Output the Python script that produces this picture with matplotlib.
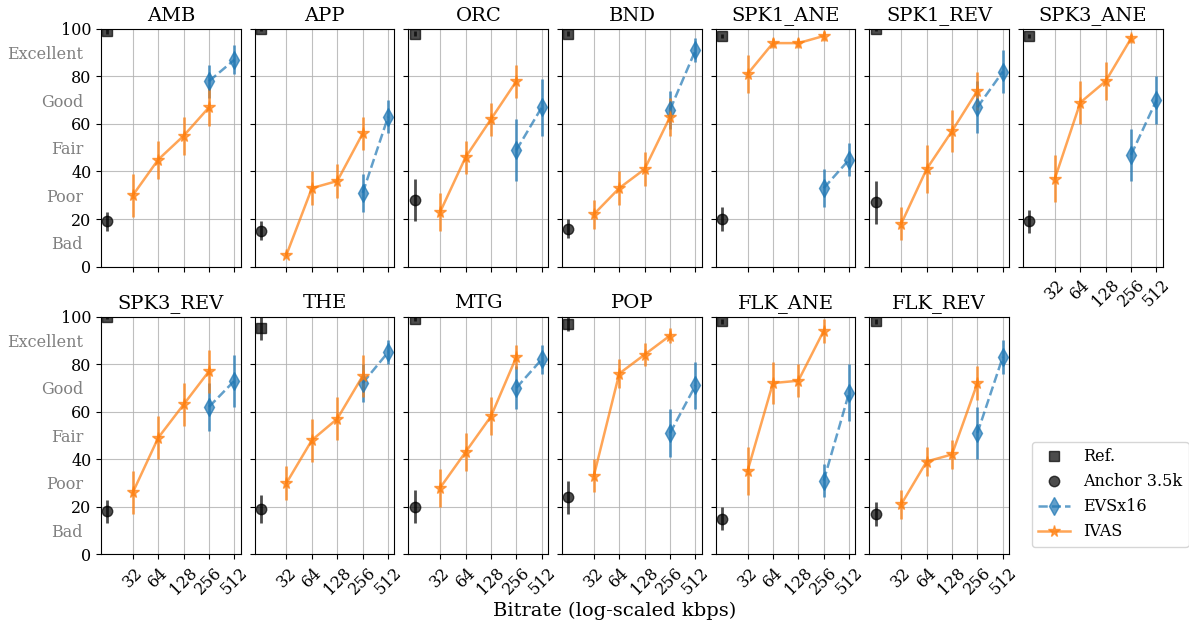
import numpy as np
import matplotlib
matplotlib.use('Agg')
import matplotlib.pyplot as plt
from matplotlib.lines import Line2D
from matplotlib.ticker import FixedLocator, NullLocator

plt.rcParams['font.family'] = 'DejaVu Serif'

items = ['AMB', 'APP', 'ORC', 'BND', 'SPK1_ANE', 'SPK1_REV', 'SPK3_ANE',
         'SPK3_REV', 'THE', 'MTG', 'POP', 'FLK_ANE', 'FLK_REV']

ref_mean = [99, 100, 98, 98, 97, 100, 97, 100, 95, 99, 97, 98, 98]
ref_err = [1, 1, 1, 1, 1, 1, 1, 1, 5, 1, 3, 1, 1]

anchor_mean = [19, 15, 28, 16, 20, 27, 19, 18, 19, 20, 24, 15, 17]
anchor_err = [4, 4, 9, 4, 5, 9, 5, 5, 6, 7, 7, 5, 5]

ivas_rates = [32, 64, 128, 256]
ivas_mean = [
    [30, 45, 55, 67],
    [5, 33, 36, 56],
    [23, 46, 62, 78],
    [22, 33, 41, 63],
    [81, 94, 94, 97],
    [18, 41, 57, 74],
    [37, 69, 78, 96],
    [26, 49, 63, 77],
    [30, 48, 57, 75],
    [28, 43, 58, 83],
    [33, 76, 84, 92],
    [35, 72, 73, 94],
    [21, 39, 42, 72],
]
ivas_err = [
    [9, 8, 8, 8],
    [1, 7, 7, 7],
    [8, 7, 7, 7],
    [6, 7, 7, 8],
    [8, 2, 2, 2],
    [7, 10, 9, 8],
    [10, 9, 8, 2],
    [9, 9, 9, 9],
    [7, 9, 9, 9],
    [8, 8, 8, 5],
    [7, 6, 5, 3],
    [10, 9, 7, 5],
    [6, 6, 6, 7],
]

evs_rates = [256, 512]
evs_mean = [
    [78, 87],
    [31, 63],
    [49, 67],
    [66, 91],
    [33, 45],
    [67, 82],
    [47, 70],
    [62, 73],
    [72, 85],
    [70, 82],
    [51, 71],
    [31, 68],
    [51, 83],
]
evs_err = [
    [7, 6],
    [8, 7],
    [13, 12],
    [8, 5],
    [8, 7],
    [11, 9],
    [11, 10],
    [10, 11],
    [8, 5],
    [9, 6],
    [10, 10],
    [7, 12],
    [11, 7],
]

ref_rate = 16
xticks = [32, 64, 128, 256, 512]
quality = ['Bad', 'Poor', 'Fair', 'Good', 'Excellent']

fig, axes = plt.subplots(2, 7, sharex=True, sharey=True, figsize=(11.89, 6.27), dpi=100)
fig.subplots_adjust(left=0.085, right=0.978, top=0.954, bottom=0.116,
                    wspace=0.1, hspace=0.21)

blue = 'tab:blue'
orange = 'tab:orange'
dark = 'k'

for i, name in enumerate(items):
    ax = axes.flat[i]
    ax.set_xscale('log', base=2)
    ax.errorbar([ref_rate], [ref_mean[i]], yerr=[ref_err[i]], fmt='s', color=dark,
                alpha=0.7, ms=7.5, elinewidth=2)
    ax.errorbar([ref_rate], [anchor_mean[i]], yerr=[anchor_err[i]], fmt='o', color=dark,
                alpha=0.7, ms=7.5, elinewidth=2)
    ax.errorbar(evs_rates, evs_mean[i], yerr=evs_err[i], fmt='d--', color=blue,
                alpha=0.7, ms=9, lw=1.8, elinewidth=2)
    ax.errorbar(ivas_rates, ivas_mean[i], yerr=ivas_err[i], fmt='*-', color=orange,
                alpha=0.7, ms=8.5, lw=1.8, elinewidth=2)
    ax.set_title(name, fontsize=14)
    ax.xaxis.set_major_locator(FixedLocator(xticks))
    ax.xaxis.set_minor_locator(NullLocator())
    ax.set_xticklabels([str(t) for t in xticks], rotation=45)
    ax.set_xlim(2 ** 3.75, 2 ** 9.25)
    ax.grid(True, which='major', color='#b0b0b0', lw=0.8, alpha=0.8)
    ax.set_ylim(0, 100)
    ax.set_yticks([0, 20, 40, 60, 80, 100])
    ax.set_yticks([10, 30, 50, 70, 90], minor=True)
    ax.set_yticklabels(quality, minor=True)
    ax.tick_params(axis='y', which='minor', length=0, pad=13, labelcolor='gray', labelsize=11.5)
    ax.tick_params(axis='both', which='major', labelsize=11.5)

axes[1, 6].axis('off')
axes[0, 6].xaxis.set_tick_params(labelbottom=True)
for lab in axes[0, 6].get_xticklabels():
    lab.set_rotation(45)

handles = [
    Line2D([], [], marker='s', ls='none', color=dark, alpha=0.7, ms=7.5),
    Line2D([], [], marker='o', ls='none', color=dark, alpha=0.7, ms=7.5),
    Line2D([], [], marker='d', ls='--', color=blue, alpha=0.7, ms=9, lw=1.8),
    Line2D([], [], marker='*', ls='-', color=orange, alpha=0.7, ms=8.5, lw=1.8),
]
fig.legend(handles, ['Ref.', 'Anchor 3.5k', 'EVSx16', 'IVAS'], loc='upper left',
           bbox_to_anchor=(1024 / 1189, 1 - 434 / 627), fontsize=11.5)

fig.text(0.517, 0.026, 'Bitrate (log-scaled kbps)', ha='center', va='center', fontsize=14)

fig.savefig('out.png', dpi=100)
